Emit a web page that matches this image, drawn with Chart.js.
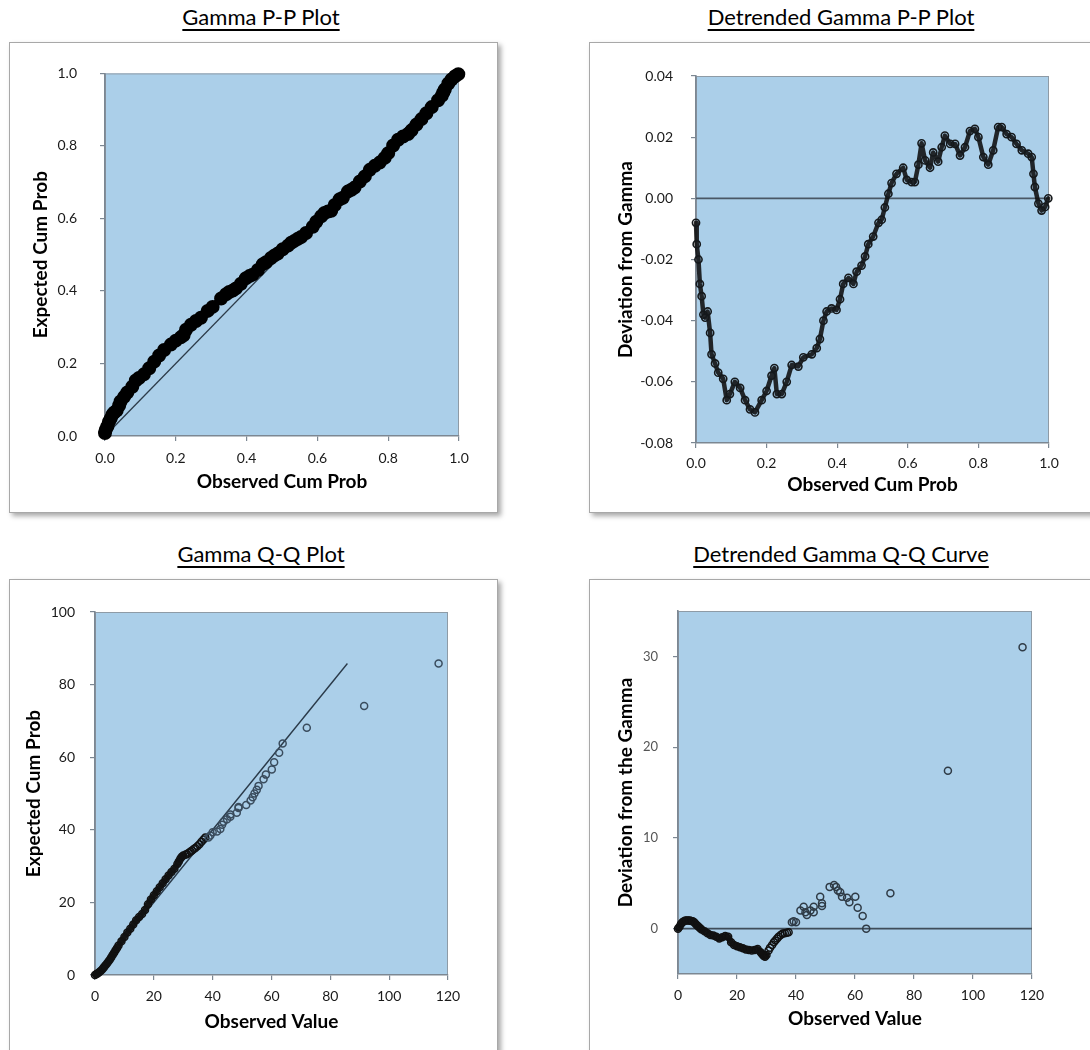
<!DOCTYPE html>
<html>
<head>
<meta charset="utf-8">
<script src="https://cdn.jsdelivr.net/npm/chart.js@4.4.1/dist/chart.umd.min.js"></script>
<style>
    body { margin: 0; width: 1090px; height: 1050px; overflow: hidden; background: #fff; font-family: Lato, 'Open Sans', sans-serif; }
    .title { position: absolute; width: 520px; text-align: center; font-size: 22px; font-weight: 400; line-height: 26px; color: #000; }
    .title span { text-decoration: underline; text-underline-offset: 4px; text-decoration-thickness: 1.5px; }
    .box { position: absolute; background: #fff; border: 1px solid #a8a8a8; box-shadow: 3px 3px 5px rgba(0, 0, 0, 0.35); }
    .holder { position: absolute; }
</style>
</head>
<body>

<div class="title" style="left:1px; top:4px;"><span>Gamma P-P Plot</span></div>
<div class="title" style="left:581px; top:4px;"><span>Detrended Gamma P-P Plot</span></div>
<div class="title" style="left:1px; top:541px;"><span>Gamma Q-Q Plot</span></div>
<div class="title" style="left:581px; top:541px;"><span>Detrended Gamma Q-Q Curve</span></div>

<div class="box" style="left:9px; top:42px; width:487px; height:469px;"></div>
<div class="box" style="left:589px; top:42px; width:540px; height:469px;"></div>
<div class="box" style="left:9px; top:579px; width:487px; height:520px;"></div>
<div class="box" style="left:589px; top:579px; width:540px; height:520px;"></div>

<div class="holder" style="left:9px; top:42px; width:488px; height:470px;"><canvas class="chart-pp"></canvas></div>
<div class="holder" style="left:589px; top:42px; width:501px; height:470px;"><canvas class="chart-dpp"></canvas></div>
<div class="holder" style="left:9px; top:579px; width:488px; height:471px;"><canvas class="chart-qq"></canvas></div>
<div class="holder" style="left:589px; top:579px; width:501px; height:471px;"><canvas class="chart-dqq"></canvas></div>

<script>
// P-P data: observed cum prob, expected cum prob, deviation (observed - expected)
const ppObs = [0.000, 0.002, 0.007, 0.011, 0.016, 0.021, 0.026, 0.033, 0.040, 0.044,
    0.054, 0.063, 0.077, 0.087, 0.096, 0.110, 0.125, 0.139, 0.153, 0.167,
    0.186, 0.200, 0.214, 0.222, 0.229, 0.243, 0.257, 0.271, 0.290, 0.304,
    0.328, 0.342, 0.351, 0.361, 0.370, 0.384, 0.398, 0.408, 0.417, 0.432,
    0.446, 0.455, 0.469, 0.479, 0.488, 0.502, 0.517, 0.526, 0.535, 0.545,
    0.554, 0.568, 0.587, 0.597, 0.611, 0.620, 0.630, 0.639, 0.649, 0.663,
    0.672, 0.686, 0.696, 0.705, 0.720, 0.734, 0.748, 0.762, 0.776, 0.790,
    0.800, 0.814, 0.828, 0.842, 0.856, 0.866, 0.880, 0.894, 0.908, 0.923,
    0.941, 0.951, 0.956, 0.960, 0.970, 0.979, 0.989, 0.998];
const ppExp = [0.008, 0.017, 0.027, 0.039, 0.048, 0.059, 0.065, 0.070, 0.084, 0.095,
    0.108, 0.120, 0.136, 0.153, 0.160, 0.170, 0.187, 0.205, 0.222, 0.237,
    0.252, 0.263, 0.272, 0.278, 0.293, 0.307, 0.317, 0.326, 0.345, 0.356,
    0.379, 0.391, 0.397, 0.401, 0.407, 0.420, 0.435, 0.441, 0.445, 0.458,
    0.474, 0.479, 0.491, 0.498, 0.503, 0.515, 0.525, 0.533, 0.538, 0.544,
    0.549, 0.560, 0.577, 0.591, 0.606, 0.615, 0.619, 0.621, 0.637, 0.653,
    0.657, 0.674, 0.679, 0.685, 0.702, 0.716, 0.734, 0.745, 0.754, 0.767,
    0.780, 0.801, 0.817, 0.826, 0.833, 0.843, 0.859, 0.874, 0.890, 0.907,
    0.926, 0.938, 0.948, 0.956, 0.972, 0.983, 0.992, 0.998];
const ppDev = [-0.008, -0.015, -0.020, -0.028, -0.032, -0.038, -0.039, -0.037, -0.044, -0.051,
    -0.054, -0.057, -0.059, -0.066, -0.064, -0.060, -0.062, -0.066, -0.069, -0.070,
    -0.066, -0.063, -0.058, -0.0555, -0.064, -0.064, -0.060, -0.0545, -0.055, -0.052,
    -0.051, -0.049, -0.046, -0.040, -0.037, -0.036, -0.0365, -0.033, -0.028, -0.026,
    -0.028, -0.024, -0.022, -0.019, -0.015, -0.0125, -0.008, -0.007, -0.003, 0.0015,
    0.005, 0.008, 0.010, 0.006, 0.0053, 0.0053, 0.011, 0.018, 0.0124, 0.010,
    0.015, 0.012, 0.0167, 0.0205, 0.0178, 0.0178, 0.014, 0.0167, 0.022, 0.0227,
    0.020, 0.0135, 0.011, 0.0157, 0.0233, 0.0233, 0.021, 0.020, 0.0178, 0.0157,
    0.0146, 0.0135, 0.008, 0.0037, -0.0017, -0.004, -0.0028, 0.0];
const ppLineX = [0, 1];
const ppLineY = [0, 1];
const dppLineX = [0, 1];
const dppLineY = [0, 0];

// Q-Q data: observed value, expected value, deviation (observed - expected)
const qqObs = [0, 0.5, 1, 1.5, 2, 2.5, 3, 3.5, 4, 4.5, 5, 5.5, 6, 6.5, 7, 7.5, 8,
    9, 10, 11, 12, 13, 14, 15, 16, 17, 18, 19, 20, 21, 22, 23, 24, 25, 26, 27, 28,
    28.5, 29, 29.5, 30,
    30.7, 31.2, 31.9, 32.5, 33, 33.6, 34.1, 34.8, 35.5, 36.2, 36.9, 37.5,
    38.6, 39.2, 40.0,
    41.5, 42.6, 43.2, 43.7, 44.9, 46.0, 46.0,
    48.2, 48.8, 48.8,
    51.4, 52.9, 53.6, 54.2, 55.0, 55.6,
    57.3, 58.1, 60.1, 60.9, 62.6, 63.8,
    72.0, 91.5, 116.8];
const qqExp = [0, 0.3, 0.5, 0.8, 1.2, 1.6, 2.1, 2.6, 3.1, 3.65, 4.2, 4.8, 5.5, 6.15, 6.8, 7.45, 8.1,
    9.3, 10.5, 11.7, 12.75, 13.9, 15.1, 15.95, 16.8, 17.9, 19.5, 20.8, 21.95, 23.05, 24.15, 25.3, 26.35, 27.4, 28.35, 29.25, 30.6,
    31.3, 32.0, 32.6, 32.9,
    33.1, 33.3, 33.7, 34.0, 34.3, 34.7, 35.0, 35.5, 36.05, 36.7, 37.35, 37.9,
    37.9, 38.4, 39.3,
    39.5, 40.2, 41.4, 42.2, 42.9, 43.6, 44.2,
    44.7, 46.0, 46.3,
    46.8, 48.1, 49.0, 50.0, 51.0, 52.1,
    53.9, 55.2, 56.6, 58.6, 61.2, 63.8,
    68.1, 74.1, 85.8];
const qqDev = [0, 0.2, 0.5, 0.7, 0.8, 0.9, 0.9, 0.9, 0.9, 0.85, 0.8, 0.7, 0.5, 0.35, 0.2, 0.05, -0.1,
    -0.3, -0.5, -0.7, -0.75, -0.9, -1.1, -0.95, -0.8, -0.9, -1.5, -1.8, -1.95, -2.05, -2.15, -2.3, -2.35, -2.4, -2.35, -2.25, -2.6,
    -2.8, -3.0, -3.1, -2.9,
    -2.4, -2.1, -1.8, -1.5, -1.3, -1.1, -0.9, -0.7, -0.55, -0.5, -0.45, -0.4,
    0.7, 0.8, 0.7,
    2.0, 2.4, 1.8, 1.5, 2.0, 2.4, 1.8,
    3.5, 2.8, 2.5,
    4.6, 4.8, 4.6, 4.2, 4.0, 3.5,
    3.4, 2.9, 3.5, 2.3, 1.4, 0.0,
    3.9, 17.4, 31.0];
const qqLineX = [0, 85.8];
const qqLineY = [0, 85.8];
const dqqLineX = [0, 120];
const dqqLineY = [0, 0];

// tick labels
const probTicks = [0, 0.2, 0.4, 0.6, 0.8, 1.0];
const devProbTicks = [-0.08, -0.06, -0.04, -0.02, 0, 0.02, 0.04];
const valueTicks = [0, 20, 40, 60, 80, 100, 120];
const qqYTicks = [0, 20, 40, 60, 80, 100];
const dqqYTicks = [0, 10, 20, 30];

Chart.defaults.font.family = 'Lato, "Open Sans", sans-serif';
Chart.defaults.color = '#1a1a1a';

const plotFill = '#abcfe9';
const axisColour = '#7c8792';

const plotBackground = {
    id: 'plotBackground',
    beforeDraw(chart) {
        const a = chart.chartArea;
        const ctx = chart.ctx;
        ctx.save();
        ctx.fillStyle = plotFill;
        ctx.fillRect(a.left, a.top, a.right - a.left, a.bottom - a.top);
        ctx.strokeStyle = '#8e9ba6';
        ctx.lineWidth = 1;
        ctx.strokeRect(a.left + 0.5, a.top + 0.5, a.right - a.left - 1, a.bottom - a.top - 1);
        ctx.restore();
    }
};

function toPoints(xs, ys) {
    return xs.map((v, i) => ({x: v, y: ys[i]}));
}

function makeAxis(o) {
    return {
        type: 'linear',
        min: o.min,
        max: o.max,
        afterBuildTicks: scale => { scale.ticks = o.ticks.map(v => ({value: v})); },
        afterFit: scale => {
            if (scale.isHorizontal()) scale.height = o.size;
            else scale.width = o.size;
        },
        grid: {drawOnChartArea: false, drawTicks: true, tickLength: 5, color: axisColour, lineWidth: 1.2},
        border: {display: true, color: axisColour, width: 1.6},
        ticks: {
            padding: o.pad,
            color: o.tickColour || '#1a1a1a',
            font: {size: o.tickSize || 14},
            callback: value => Math.abs(value) < 1e-9 ? (0).toFixed(o.dec) : Number(value).toFixed(o.dec)
        },
        title: {
            display: true,
            text: o.title,
            color: '#000',
            font: {size: 19, weight: 'bold'},
            padding: o.titlePad
        }
    };
}

function createScatter(canvasElement, datasets, xAxis, yAxis, padding) {
    new Chart(canvasElement, {
        type: 'scatter',
        data: {datasets: datasets},
        options: {
            responsive: true,
            maintainAspectRatio: false,
            animation: false,
            layout: {padding: padding},
            plugins: {legend: {display: false}, tooltip: {enabled: false}},
            scales: {x: xAxis, y: yAxis}
        },
        plugins: [plotBackground]
    });
}

function refLine(xs, ys, colour, width) {
    return {
        data: toPoints(xs, ys),
        showLine: true,
        pointRadius: 0,
        borderColor: colour,
        borderWidth: width,
        clip: false
    };
}

// Gamma P-P Plot
createScatter(document.querySelector('.chart-pp'), [
    {
        data: toPoints(ppObs, ppExp),
        showLine: true,
        borderColor: '#0c0c0c',
        borderWidth: 7,
        borderCapStyle: 'round',
        borderJoinStyle: 'round',
        pointRadius: 3.5,
        pointBackgroundColor: '#111',
        pointBorderColor: '#000',
        clip: false
    },
    refLine(ppLineX, ppLineY, '#2d3c4a', 1.3)
],
makeAxis({min: 0, max: 1, ticks: probTicks, size: 76, pad: 9, dec: 1, title: 'Observed Cum Prob', titlePad: {top: 0, bottom: 19}}),
makeAxis({min: 0, max: 1, ticks: probTicks, size: 96, pad: 23, dec: 1, title: 'Expected Cum Prob', titlePad: {top: 20, bottom: 0}}),
{left: 0, top: 26, right: 38, bottom: 0});

// Detrended Gamma P-P Plot
createScatter(document.querySelector('.chart-dpp'), [
    {
        data: toPoints(ppObs, ppDev),
        showLine: true,
        borderColor: 'rgba(14, 14, 14, 0.88)',
        borderWidth: 4.5,
        borderJoinStyle: 'round',
        borderCapStyle: 'round',
        pointRadius: 3.6,
        pointBorderWidth: 1.6,
        pointBackgroundColor: 'rgba(0, 0, 0, 0)',
        pointBorderColor: '#15191c',
        clip: false
    },
    refLine(dppLineX, dppLineY, '#4a5866', 1.8)
],
makeAxis({min: 0, max: 1, ticks: probTicks, size: 69, pad: 7, dec: 1, title: 'Observed Cum Prob', titlePad: {top: 0, bottom: 16}}),
makeAxis({min: -0.08, max: 0.04, ticks: devProbTicks, size: 107, pad: 18, dec: 2, title: 'Deviation from Gamma', titlePad: {top: 25, bottom: 0}}),
{left: 0, top: 34, right: 41, bottom: 0});

// Gamma Q-Q Plot
createScatter(document.querySelector('.chart-qq'), [
    {
        data: toPoints(qqObs, qqExp),
        showLine: true,
        borderWidth: 6,
        borderColor: '#141414',
        borderCapStyle: 'round',
        borderJoinStyle: 'round',
        segment: {borderColor: ctx => ctx.p1.parsed.x <= 30 ? '#141414' : 'rgba(0, 0, 0, 0)'},
        pointRadius: 3.5,
        pointBorderWidth: 1.5,
        pointBackgroundColor: 'rgba(0, 0, 0, 0)',
        pointBorderColor: ctx => (ctx.raw && ctx.raw.x <= 38) ? '#111' : '#3a4c5d',
        clip: false
    },
    refLine(qqLineX, qqLineY, '#2a3a49', 1.4)
],
makeAxis({min: 0, max: 120, ticks: valueTicks, size: 75, pad: 8, dec: 0, title: 'Observed Value', titlePad: {top: 0, bottom: 17}}),
makeAxis({min: 0, max: 100, ticks: qqYTicks, size: 86, pad: 15, dec: 0, title: 'Expected Cum Prob', titlePad: {top: 13, bottom: 0}}),
{left: 0, top: 33, right: 49, bottom: 0});

// Detrended Gamma Q-Q Curve
createScatter(document.querySelector('.chart-dqq'), [
    {
        data: toPoints(qqObs, qqDev),
        showLine: true,
        borderWidth: 6,
        borderColor: '#141414',
        borderCapStyle: 'round',
        borderJoinStyle: 'round',
        segment: {borderColor: ctx => ctx.p1.parsed.x <= 30 ? '#141414' : 'rgba(0, 0, 0, 0)'},
        pointRadius: 3.5,
        pointBorderWidth: 1.5,
        pointBackgroundColor: 'rgba(0, 0, 0, 0)',
        pointBorderColor: ctx => (ctx.raw && ctx.raw.x <= 38) ? '#111' : '#2f3b46',
        clip: false
    },
    refLine(dqqLineX, dqqLineY, '#3f4d5a', 1.8)
],
makeAxis({min: 0, max: 120, ticks: valueTicks, size: 76, pad: 8, dec: 0, title: 'Observed Value', titlePad: {top: 0, bottom: 20}}),
makeAxis({min: -5, max: 35, ticks: dqqYTicks, size: 89, pad: 15, dec: 0, tickColour: '#555', tickSize: 13, title: 'Deviation from the Gamma', titlePad: {top: 25, bottom: 0}}),
{left: 0, top: 32, right: 58, bottom: 0});
</script>
</body>
</html>
